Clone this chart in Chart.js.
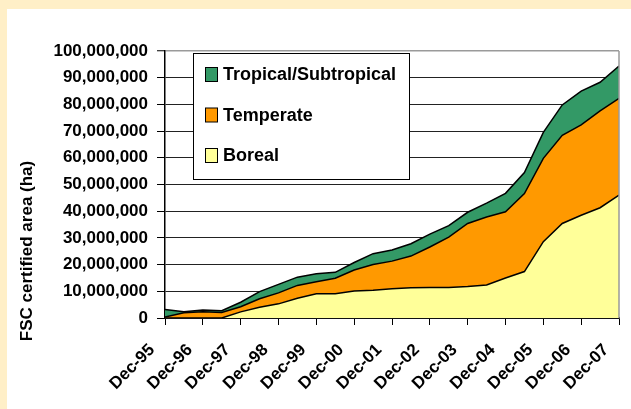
<!DOCTYPE html>
<html><head><meta charset="utf-8">
<script src="https://cdn.jsdelivr.net/npm/chart.js@4.4.1/dist/chart.umd.min.js"></script>
<style>html,body{margin:0;padding:0;background:#FFEFC7;overflow:hidden}canvas{display:block}</style>
</head><body>
<canvas id="c" width="631" height="409"></canvas>
<script>
// Half-yearly observation periods (Dec-95 ... Dec-07)
const periods = ['Dec-95','Jun-96','Dec-96','Jun-97','Dec-97','Jun-98','Dec-98','Jun-99','Dec-99','Jun-00',
  'Dec-00','Jun-01','Dec-01','Jun-02','Dec-02','Jun-03','Dec-03','Jun-04','Dec-04','Jun-05','Dec-05','Jun-06',
  'Dec-06','Jun-07','Dec-07'];
// Axis tick labels (every December)
const tickLabels = ['Dec-95','Dec-96','Dec-97','Dec-98','Dec-99','Dec-00','Dec-01','Dec-02','Dec-03','Dec-04','Dec-05','Dec-06','Dec-07'];
// FSC certified area (ha) per biome
const boreal = [0,0,0,0,2300000,4000000,5300000,7400000,9100000,9100000,10100000,10400000,11000000,11300000,
  11400000,11400000,11800000,12400000,15000000,17400000,28600000,35400000,38500000,41300000,46000000];
const temperate = [400000,2000000,2300000,2100000,1900000,3200000,4100000,4800000,4500000,5800000,7900000,9600000,
  10300000,11900000,15200000,18900000,23600000,25400000,24800000,29200000,31200000,33000000,33800000,36300000,36300000];
const tropical = [2800000,300000,700000,600000,1700000,2700000,3200000,3100000,3000000,2200000,2800000,4100000,
  4200000,4600000,4800000,4300000,4200000,5200000,6900000,7900000,9700000,11400000,12700000,10700000,12100000];
const seriesNames = ['Boreal','Temperate','Tropical/Subtropical'];
const seriesColors = ['#FFFF99','#FF9900','#339966'];
const yAxisTitle = 'FSC certified area (ha)';

const FONT = "'Liberation Sans', Arial, sans-serif";
Chart.defaults.font.family = FONT;

const toPts = arr => arr.map((v, i) => ({x: i, y: v}));

const bgPlugin = {
  id: 'bg',
  beforeDraw(chart) {
    const ctx = chart.ctx;
    ctx.save();
    ctx.fillStyle = '#FFEFC7';
    ctx.fillRect(0, 0, chart.width, chart.height);
    ctx.fillStyle = '#FFFFFF';
    ctx.fillRect(7, 9, chart.width - 7, chart.height - 9);
    ctx.restore();
  }
};

const decoPlugin = {
  id: 'deco',
  afterDraw(chart) {
    const ctx = chart.ctx, a = chart.chartArea;
    ctx.save();
    ctx.strokeStyle = '#9a9a9a';
    ctx.lineWidth = 1.5;
    ctx.beginPath();
    ctx.moveTo(a.right, a.top);
    ctx.lineTo(a.right, a.bottom);
    ctx.stroke();
    ctx.fillStyle = '#000';
    ctx.font = 'bold 17px ' + FONT;
    ctx.textAlign = 'center';
    ctx.textBaseline = 'middle';
    ctx.translate(27, 251);
    ctx.rotate(-Math.PI / 2);
    ctx.fillText(yAxisTitle, 0, 0);
    ctx.restore();

    ctx.save();
    ctx.fillStyle = '#fff';
    ctx.fillRect(193.5, 53.5, 216, 126);
    ctx.strokeStyle = '#000';
    ctx.lineWidth = 1;
    ctx.strokeRect(193.5, 53.5, 216, 126);
    const rows = [74.5, 115, 155.5];
    const ds = chart.data.datasets.slice().reverse();
    ds.forEach((d, i) => {
      const cy = rows[i];
      ctx.fillStyle = d.backgroundColor;
      ctx.fillRect(205.5, cy - 7, 12, 14);
      ctx.strokeStyle = '#000';
      ctx.lineWidth = 1;
      ctx.strokeRect(205.5, cy - 7, 12, 14);
      ctx.fillStyle = '#000';
      ctx.font = 'bold 18px ' + FONT;
      ctx.textAlign = 'left';
      ctx.textBaseline = 'middle';
      ctx.fillText(d.label, 223, cy + 1);
    });
    ctx.restore();
  }
};

const mkDs = (i, data, fill) => ({
  label: seriesNames[i],
  data: toPts(data),
  backgroundColor: seriesColors[i],
  borderColor: '#000',
  borderWidth: 1.5,
  pointRadius: 0,
  tension: 0,
  fill: fill
});

new Chart(document.getElementById('c'), {
  type: 'line',
  data: {
    datasets: [
      mkDs(0, boreal, 'origin'),
      mkDs(1, temperate, '-1'),
      mkDs(2, tropical, '-1')
    ]
  },
  options: {
    responsive: false,
    animation: false,
    devicePixelRatio: 1,
    layout: {padding: {top: 51, right: 12, left: 0, bottom: 0}},
    plugins: {legend: {display: false}, tooltip: {enabled: false}},
    scales: {
      x: {
        type: 'linear', min: 0, max: periods.length - 1, offset: false,
        afterFit: s => { s.height = 91; s.paddingLeft = 0; s.paddingRight = 0; },
        grid: {drawOnChartArea: false, drawTicks: true, tickLength: 7, tickColor: '#000', tickWidth: 1},
        border: {display: true, color: '#000', width: 1.5},
        ticks: {
          stepSize: 2, autoSkip: false, maxRotation: 45, minRotation: 45,
          padding: 15, labelOffset: -13, color: '#000',
          font: {size: 17, weight: 'bold'},
          callback: v => tickLabels[Math.round(v / 2)]
        }
      },
      y: {
        stacked: true, min: 0, max: 100000000,
        afterFit: s => { s.width = 165; s.paddingTop = 0; s.paddingBottom = 0; },
        grid: {
          color: c => (c.tick && c.tick.value === 100000000) ? '#9a9a9a' : '#222',
          lineWidth: c => (c.tick && c.tick.value === 100000000) ? 1.5 : 1,
          drawTicks: true, tickLength: 8, tickColor: '#000', tickWidth: 1
        },
        border: {display: true, color: '#000', width: 1.5},
        ticks: {
          stepSize: 10000000, padding: 9, color: '#000',
          font: {size: 17, weight: 'bold'},
          callback: v => v.toLocaleString('en-US')
        }
      }
    }
  },
  plugins: [bgPlugin, decoPlugin]
});
</script>
</body></html>
